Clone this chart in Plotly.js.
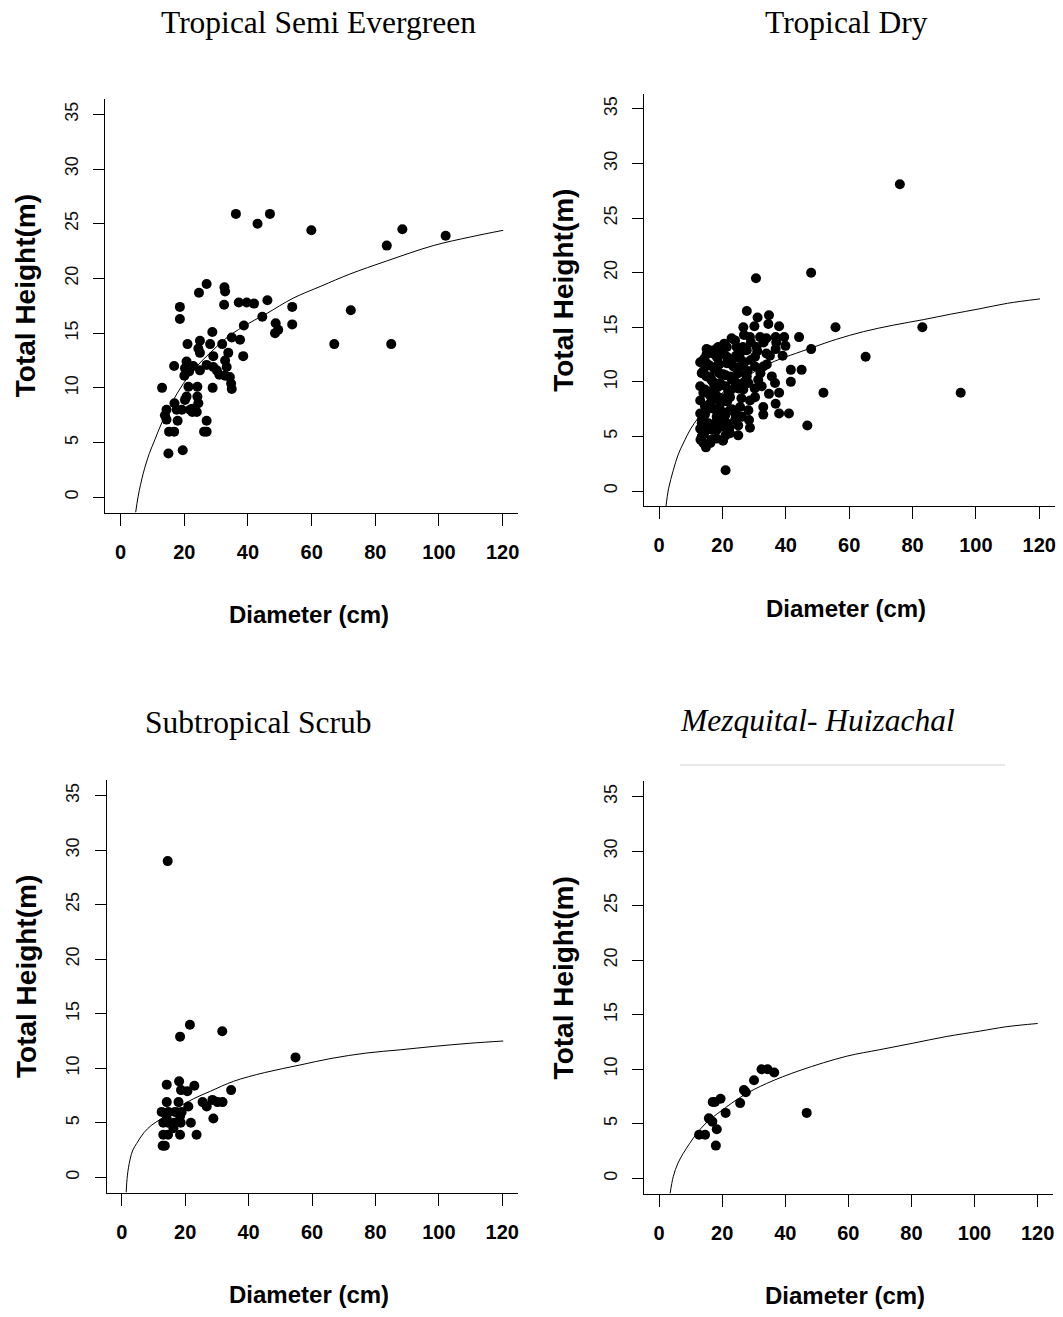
<!DOCTYPE html>
<html><head><meta charset="utf-8">
<script src="https://cdn.plot.ly/plotly-3.0.1.min.js"></script>
<style>html,body{margin:0;padding:0;background:#fff}#chart{width:1063px;height:1317px}</style>
</head><body><div id="chart"></div>
<script>
// ---- tick labels ----
const xTicks = [0, 20, 40, 60, 80, 100, 120];
const yTicks = [0, 5, 10, 15, 20, 25, 30, 35];

// ---- panel titles ----
const panelTitles = ["Tropical Semi Evergreen", "Tropical Dry", "Subtropical Scrub", "<i>Mezquital- Huizachal</i>"];

// ---- Tropical Semi Evergreen ----
const tseD = [36.2,43.0,46.9,59.9,83.6,88.5,102.1,72.3,67.1,85.0,53.9,53.9,46.1,44.5,41.9,39.6,37.1,48.7,49.5,48.5,38.7,37.5,38.5,34.9,27.0,24.6,32.6,32.8,32.5,18.6,18.6,16.8,13.0,28.8,28.1,24.9,24.4,21.0,24.9,29.1,29.1,31.9,33.8,32.8,33.3,30.2,31.0,34.3,34.7,34.9,32.8,27.0,24.9,22.8,20.7,20.2,20.0,21.5,28.9,21.3,24.1,20.7,20.2,24.1,24.4,21.8,23.9,19.2,17.6,16.9,14.4,13.9,14.4,17.9,27.0,26.2,27.0,15.2,16.8,15.0,19.5,22.5,22.5];
const tseH = [25.9,25.0,25.9,24.4,23.0,24.5,23.9,17.1,14.0,14.0,17.4,15.8,18.0,16.5,17.7,17.8,17.8,15.9,15.3,15.0,15.7,14.4,12.9,14.6,19.5,18.7,19.2,18.8,17.6,17.4,16.3,12.0,10.0,15.1,14.0,14.3,13.6,14.0,13.2,12.9,11.9,14.0,13.2,12.5,11.9,11.6,11.2,11.0,10.4,9.9,11.1,12.1,11.6,12.0,12.4,11.8,11.1,11.5,10.0,10.1,10.1,9.2,8.9,9.2,8.6,8.0,7.8,8.0,8.0,8.6,8.0,7.5,7.1,7.0,7.0,6.0,6.0,6.0,6.0,4.0,4.3,8.1,7.8];
const tseCurveD = [4.7,5.5,7.1,9.0,10.8,12.9,16.0,19.7,24.0,28.1,33.0,38.5,45.9,54.2,63.0,72.0,83.6,98.2,110.0,120.2];
const tseCurveH = [-1.4,0.1,2.2,4.0,5.3,6.8,8.6,10.4,12.0,13.2,14.5,15.6,16.8,18.2,19.3,20.4,21.6,23.0,23.8,24.4];

// ---- Tropical Dry ----
const tdD = [76.0,48.0,30.6,55.7,83.1,65.2,95.2,51.9,46.8,21.0,48.0,45.0,41.6,41.6,44.2,41.0,37.9,36.8,37.9,34.7,32.9,32.9,28.4,28.7,25.0,21.0,14.8,13.1,27.7,31.1,34.7,34.5,37.9,30.1,26.6,26.8,36.8,39.5,39.9,33.9,36.8,33.9,30.8,22.9,15.9,14.2,18.7,21.4,24.5,30.3,32.9,35.6,36.6,31.3,32.4,28.2,28.7,30.3,25.6,25.0,21.4,16.9,13.5,13.0,13.0,13.0,15.0,17.1,19.3,22.4,24.5,16.1,19.3,22.4,18.2,15.0,13.5,22.4,15.0,18.2,21.4,25.6,27.7,24.5,21.4,18.2,27.7,30.3,26.6,24.0,19.8,16.6,14.0,16.1,14.5,19.3,21.9,20.3,23.5,15.6,18.2,28.7,31.9,15.0,16.6,20.6,24.3,22.4,18.2,19.8,14.5,17.7,13.0,14.0,16.0,17.0,19.0,21.0,23.0,25.0,18.0,20.0,22.0,24.0,26.0,13.5,15.0,17.5,20.0,23.0,26.0,27.0,29.0,14.0,16.0,18.5,21.0,24.0,
  13.5,14.5,15.5,16.5,17.5,18.5,19.5,20.5,21.5,22.5,23.5,24.5,25.5,26.5,13.0,15.0,17.0,19.0,21.0,23.0,25.0,27.0,28.0,29.0,31.0,33.0,35.0,37.0,39.0,14.2,16.2,18.2,20.2,22.2,24.2,26.2,28.2,30.2,32.0,34.0];
const tdH = [28.1,20.0,19.5,15.0,15.0,12.3,9.0,9.0,6.0,1.9,13.0,11.1,11.1,10.0,14.1,7.1,7.1,8.0,9.0,8.9,7.7,7.0,6.5,5.8,5.1,5.1,4.0,4.7,16.5,15.9,16.1,15.3,15.1,15.1,15.0,14.3,14.1,14.1,13.3,14.0,13.0,12.6,13.2,14.0,12.9,12.1,13.2,13.2,12.3,12.3,11.4,10.5,9.9,10.2,9.6,9.9,8.3,8.6,7.7,6.0,6.2,5.6,6.2,7.1,8.3,9.6,10.5,9.3,9.9,10.5,9.9,8.0,8.0,8.6,6.8,5.6,5.0,7.4,11.7,11.4,11.7,11.4,10.5,13.2,12.3,12.3,12.9,11.4,9.3,6.5,5.9,4.7,4.4,10.5,9.3,7.4,9.1,10.7,11.4,6.2,4.8,14.1,14.1,7.4,8.3,13.5,12.4,5.3,8.7,6.5,7.0,6.2,5.7,11.0,11.5,10.0,10.8,9.6,10.2,10.8,13.0,12.8,12.0,13.8,12.8,10.8,12.5,7.5,8.5,7.5,8.5,11.8,12.0,9.0,8.8,9.5,7.0,9.5,
  6.5,7.8,9.0,10.2,11.2,12.2,6.2,7.2,8.2,9.2,10.2,11.2,12.2,13.2,11.8,13.0,12.6,11.6,10.6,11.6,9.4,10.0,11.0,13.6,12.8,13.6,12.4,13.6,12.4,5.2,4.4,5.6,4.6,5.8,7.0,6.8,7.4,9.4,10.8,11.6];
const tdCurveD = [2.2,3.0,4.5,6.0,7.7,10.0,12.4,16.0,20.0,27.7,35.0,48.0,56.0,64.5,74.0,83.4,92.0,101.3,110.0,120.2];
const tdCurveH = [-1.4,0.2,1.9,3.3,4.4,5.7,6.7,7.9,9.0,10.5,11.7,13.1,13.9,14.6,15.2,15.7,16.2,16.7,17.2,17.6];

// ---- Subtropical Scrub ----
const ssD = [14.5,21.5,18.4,31.7,54.8,34.5,22.9,18.1,14.2,18.7,20.7,14.2,17.9,25.5,26.8,28.6,30.2,31.8,28.9,12.6,14.7,16.8,18.9,21.0,13.1,14.6,16.5,18.6,21.8,14.2,18.4,13.1,14.6,18.4,23.6,12.9,13.6,16.3];
const ssH = [29.0,14.0,12.9,13.4,11.0,8.0,8.4,8.8,8.5,8.0,7.9,6.9,6.9,6.9,6.5,7.1,6.9,6.9,5.4,6.0,6.0,6.0,6.0,6.5,5.0,5.0,5.0,5.0,5.0,5.4,5.6,3.9,3.9,3.9,3.9,2.9,2.9,4.5];
const ssCurveD = [1.4,1.8,2.6,3.5,4.7,7.0,9.5,12.1,16.0,22.6,28.0,35.2,45.0,56.2,66.0,77.2,88.0,98.2,110.0,120.3];
const ssCurveH = [-1.4,0.2,1.6,2.5,3.1,4.1,4.8,5.3,6.1,7.2,7.9,8.8,9.6,10.3,10.9,11.4,11.7,12.0,12.3,12.5];

// ---- Mezquital- Huizachal ----
const mhD = [46.8,32.5,34.4,36.5,30.1,26.9,27.5,25.7,21.1,19.5,17.7,17.0,15.8,16.9,18.3,14.6,12.7,18.0];
const mhH = [6.0,10.0,10.0,9.7,9.0,8.1,7.9,6.9,6.0,7.3,7.0,7.0,5.5,5.2,4.5,4.0,4.0,3.0];
const mhCurveD = [3.5,4.5,6.0,7.7,9.7,11.9,15.0,19.3,26.7,34.1,44.7,59.5,70.0,80.6,91.0,101.7,110.0,120.0];
const mhCurveH = [-1.4,0.15,1.4,2.3,3.2,4.1,5.1,6.1,7.6,8.7,9.9,11.2,11.8,12.4,13.0,13.5,13.9,14.2];

// ---- panel geometry (pixels in the 1063x1317 page) ----
const W = 1063, H = 1317;
const panels = [
  {d: tseD, h: tseH, cd: tseCurveD, ch: tseCurveH, x0: 105.4, x1: 517.9, yT: 99.0, yB: 512.6, tx: 318, ty: 22},
  {d: tdD, h: tdH, cd: tdCurveD, ch: tdCurveH, x0: 643.8, x1: 1054.5, yT: 93.7, yB: 506.3, tx: 846, ty: 22},
  {d: ssD, h: ssH, cd: ssCurveD, ch: ssCurveH, x0: 106.5, x1: 517.5, yT: 780.4, yB: 1192.6, tx: 258, ty: 722},
  {d: mhD, h: mhH, cd: mhCurveD, ch: mhCurveH, x0: 643.9, x1: 1052.8, yT: 781.4, yB: 1193.6, tx: 817, ty: 720}
];

const sans = "Liberation Sans, Arial, sans-serif";
const serif = "Liberation Serif, Times New Roman, serif";

const data = [];
const layout = {
  width: W, height: H,
  margin: {l: 0, r: 0, t: 0, b: 0},
  paper_bgcolor: "#ffffff", plot_bgcolor: "#ffffff",
  showlegend: false,
  annotations: [],
  shapes: []
};

panels.forEach((p, i) => {
  const n = i + 1;
  const xa = "x" + (n === 1 ? "" : n), ya = "y" + (n === 1 ? "" : n);
  data.push({
    type: "scatter", mode: "markers", x: p.d, y: p.h, xaxis: xa, yaxis: ya,
    marker: {color: "#000000", size: 10, line: {width: 0}}, hoverinfo: "x+y"
  });
  data.push({
    type: "scatter", mode: "lines", x: p.cd, y: p.ch, xaxis: xa, yaxis: ya,
    line: {color: "#000000", width: 1, shape: "spline"}, hoverinfo: "skip"
  });
  const xk = "xaxis" + (n === 1 ? "" : n), yk = "yaxis" + (n === 1 ? "" : n);
  layout[xk] = {
    domain: [p.x0 / W, p.x1 / W], anchor: ya, range: [-4.8, 124.8],
    showline: true, linecolor: "#000", linewidth: 1, mirror: false,
    ticks: "outside", ticklen: 12, tickwidth: 1, tickcolor: "#000",
    tickvals: xTicks, ticktext: xTicks.map(String),
    showgrid: false, zeroline: false, fixedrange: true,
    tickfont: {family: sans, size: 20, color: "#000", weight: "bold"},
    ticklabelstandoff: 9
  };
  layout[yk] = {
    domain: [1 - p.yB / H, 1 - p.yT / H], anchor: xa, range: [-1.4, 36.4],
    showline: true, linecolor: "#000", linewidth: 1, mirror: false,
    ticks: "outside", ticklen: 11, tickwidth: 1, tickcolor: "#000",
    tickvals: yTicks, ticktext: yTicks.map(String), tickangle: -90,
    showgrid: false, zeroline: false, fixedrange: true,
    tickfont: {family: sans, size: 18, color: "#111"},
    ticklabelstandoff: 8
  };
  // x axis title
  layout.annotations.push({
    text: "Diameter (cm)", xref: "paper", yref: "paper",
    x: ((p.x0 + p.x1) / 2 - 3) / W, y: 1 - (p.yB + 102) / H,
    xanchor: "center", yanchor: "middle", showarrow: false,
    font: {family: sans, size: 24, color: "#000", weight: "bold"}
  });
  // y axis title
  layout.annotations.push({
    text: "Total Height(m)", xref: "paper", yref: "paper",
    x: (p.x0 - 80) / W, y: 1 - ((p.yT + p.yB) / 2 - 10) / H,
    xanchor: "center", yanchor: "middle", showarrow: false, textangle: -90,
    font: {family: sans, size: 28, color: "#000", weight: "bold"}
  });
  // panel title
  layout.annotations.push({
    text: panelTitles[i], xref: "paper", yref: "paper",
    x: p.tx / W, y: 1 - p.ty / H, xanchor: "center", yanchor: "middle", showarrow: false,
    font: {family: serif, size: 31.5, color: "#000"}
  });
});

// faint rule under the last panel title
layout.shapes.push({type: "line", xref: "paper", yref: "paper",
  x0: 680 / W, x1: 1005 / W, y0: 1 - 765 / H, y1: 1 - 765 / H,
  line: {color: "#d0d0d0", width: 1}});

Plotly.newPlot("chart", data, layout, {displayModeBar: false, staticPlot: true});
</script></body></html>
